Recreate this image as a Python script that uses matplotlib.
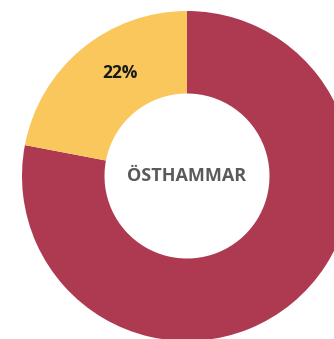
import matplotlib
matplotlib.use("Agg")
import matplotlib.pyplot as plt

# Share of the municipality, in percent
labels = ["Övrigt", "Andel"]
values = [78, 22]
colors = ["#AE3A52", "#F9C75C"]
center_label = "ÖSTHAMMAR"

W, H = 334, 339
cx, cy, R = 187, 176, 165  # donut centre and outer radius in pixels

fig = plt.figure(figsize=(W / 100, H / 100), dpi=100)
ax = fig.add_axes([0, 0, 1, 1])

ax.pie(values, colors=colors, startangle=90, counterclock=False,
       radius=1.0, wedgeprops=dict(width=0.5, linewidth=0), frame=True)
ax.set_xlim(-cx / R, (W - cx) / R)
ax.set_ylim(-(H - cy) / R, cy / R)
ax.set_aspect("auto")
ax.axis("off")

ax.text(-67 / R, 103 / R, f"{values[1]}%", ha="center", va="center",
        fontsize=12.5, fontweight="bold", color="#1a1a1a", family="Open Sans")
ax.text(0, 0, center_label, ha="center", va="center",
        fontsize=13, fontweight="bold", color="#5a5a5a", family="Open Sans")

fig.savefig("out.png", dpi=100, facecolor="white")
